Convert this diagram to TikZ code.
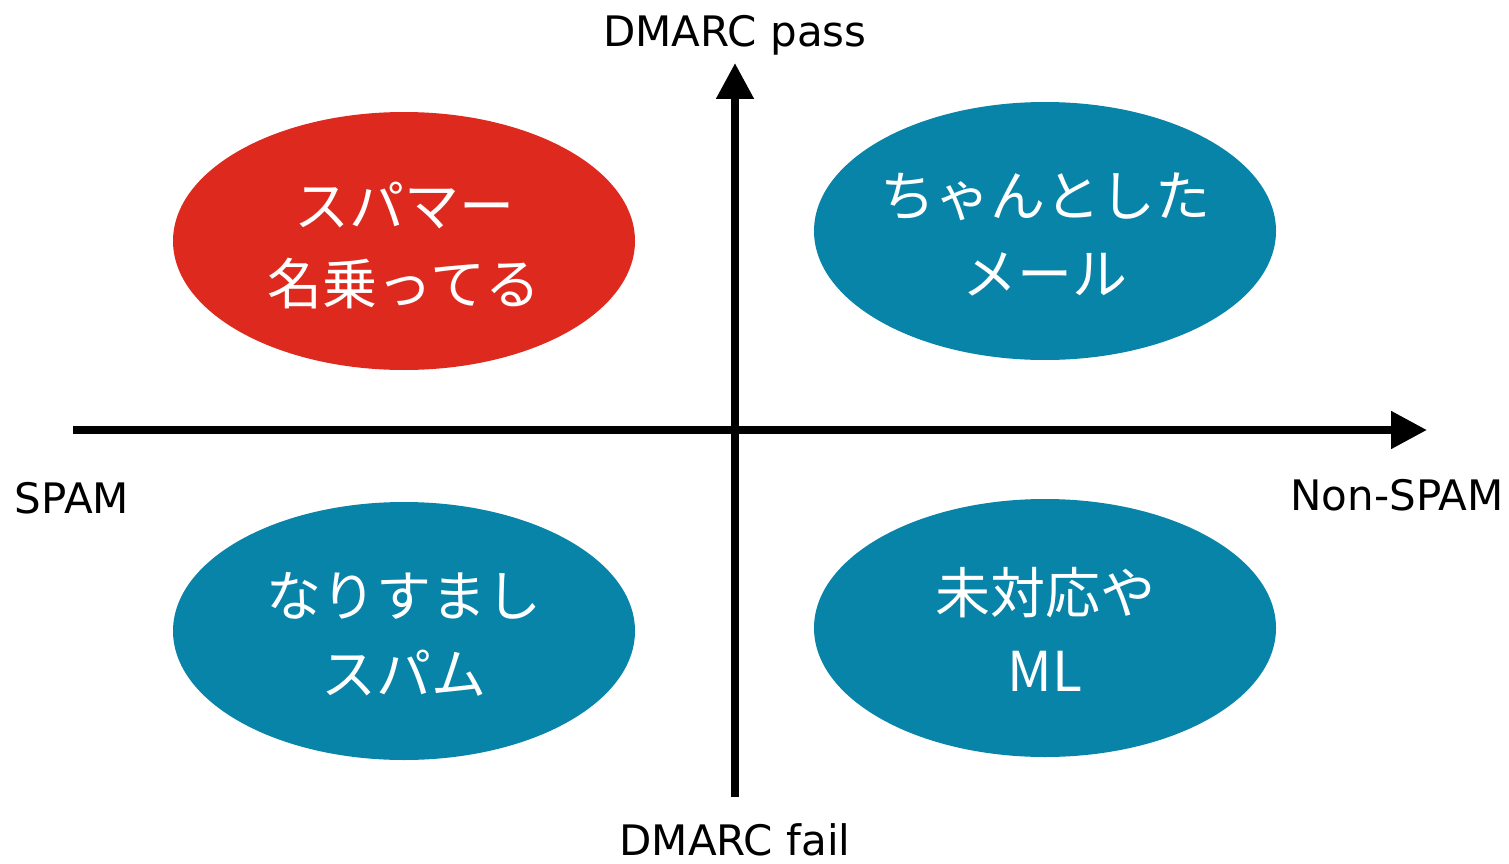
\documentclass[tikz,border=0pt]{standalone}
\usepackage{fontspec}
\setmainfont{DejaVu Sans}
\newfontfamily\jp{Noto Sans CJK JP}
\usetikzlibrary{shapes.geometric,arrows.meta}
\definecolor{spamred}{HTML}{DE2A1E}
\definecolor{okblue}{HTML}{0884A8}
\tikzset{
  blob/.style={ellipse, minimum width=462pt, minimum height=258pt, inner ysep=0pt,
    inner xsep=-40pt, text=white, align=center, text height=126pt, text depth=0pt,
    font=\jp\fontsize{55}{78}\selectfont},
  axis/.style={line width=8pt, -{Triangle[length=36pt,width=36pt]}},
  lbl/.style={font=\fontsize{42}{50}\selectfont, inner sep=0pt, anchor=base}
}
\begin{document}
\begin{tikzpicture}[x=1pt,y=-1pt]
\useasboundingbox (0,0) rectangle (1509,864);
\node[blob, fill=spamred] (sp) at (404,241) {スパマー\\名乗ってる};
\node[blob, fill=okblue] (ok) at (1045,231) {ちゃんとした\\メール};
\node[blob, fill=okblue] (nr) at (404,631) {なりすまし\\スパム};
\node[blob, fill=okblue] (ml) at (1045,628) {未対応や\\ML};
\coordinate (hl) at (73,430);
\coordinate (hr) at (1427,430);
\coordinate (vb) at (735,797);
\coordinate (vt) at (735,63);
\draw[axis] (hl) -- (hr);
\draw[axis] (vb) -- (vt);
\node[lbl] (pass) at (735,47) {DMARC pass};
\node[lbl] (fail) at (735,855) {DMARC fail};
\node[lbl] (spam) at (72,513) {SPAM};
\node[lbl] (non) at (1397,510) {Non-SPAM};
\end{tikzpicture}
\end{document}
